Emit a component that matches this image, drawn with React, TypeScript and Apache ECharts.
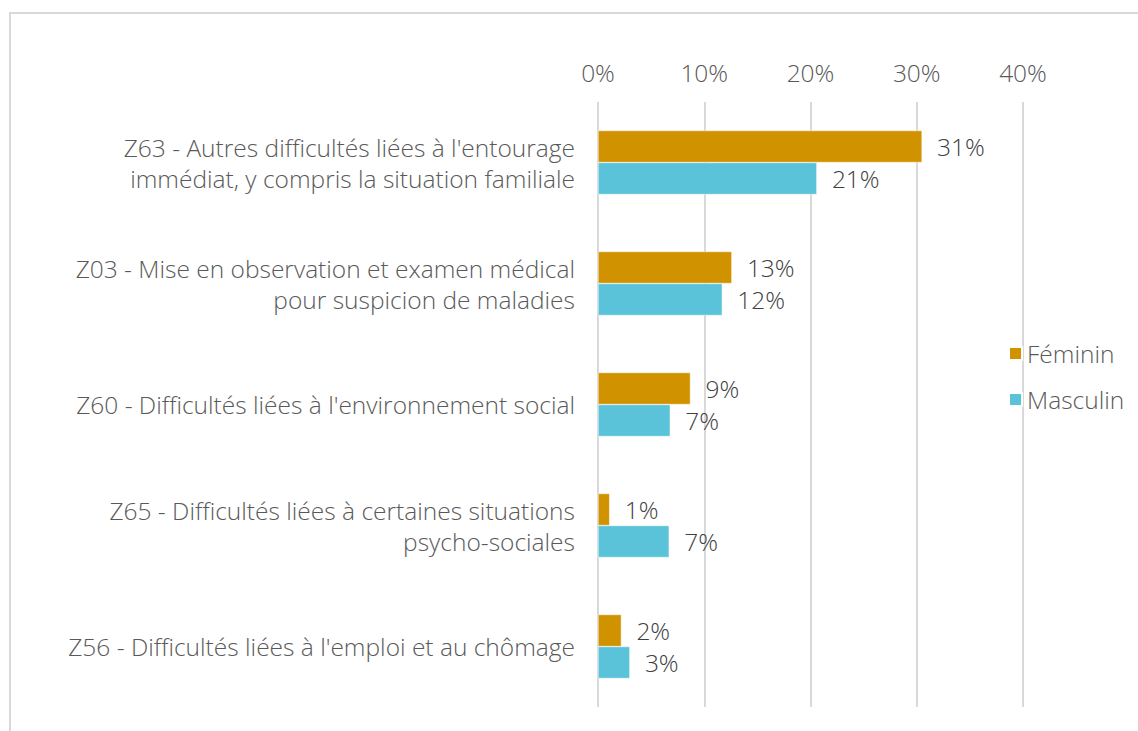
import React, { useEffect, useRef } from "react";
import * as echarts from "echarts";

const categories = [
  "Z63 - Autres difficultés liées à l'entourage\nimmédiat, y compris la situation familiale",
  "Z03 - Mise en observation et examen médical\npour suspicion de maladies",
  "Z60 - Difficultés liées à l'environnement social",
  "Z65 - Difficultés liées à certaines situations\npsycho-sociales",
  "Z56 - Difficultés liées à l'emploi et au chômage",
];
const feminin = [30.5, 12.6, 8.7, 1.1, 2.2];
const masculin = [20.6, 11.7, 6.8, 6.7, 3.0];
const seriesNames = ["Féminin", "Masculin"];
const xTicks = [0, 10, 20, 30, 40];

const FONT = "'Open Sans'";
const TEXT = "#595959";
const FS = 24.5;

export default function App() {
  const ref = useRef<HTMLDivElement>(null);
  useEffect(() => {
    if (!ref.current) return;
    const chart = echarts.init(ref.current, null, { renderer: "svg" });
    const labelOpt = {
      show: true,
      position: "right",
      distance: 15,
      color: "#404040",
      fontSize: FS,
      fontFamily: FONT,
      fontWeight: 300,
      formatter: (p: any) => Math.round(p.value) + "%",
    };
    chart.setOption({
      animation: false,
      backgroundColor: "#ffffff",
      textStyle: { fontFamily: FONT },
      graphic: [
        {
          type: "rect",
          shape: { x: 10, y: 13, width: 1200, height: 800 },
          style: { fill: "none", stroke: "#d9d9d9", lineWidth: 2 },
          silent: true,
        },
      ],
      grid: { left: 598, right: 115, top: 102, bottom: 24, containLabel: false },
      legend: {
        orient: "vertical",
        left: 1008,
        top: 341,
        padding: 0,
        itemWidth: 13,
        itemHeight: 13,
        itemGap: 21,
        icon: "rect",
        textStyle: { color: TEXT, fontSize: FS, fontFamily: FONT, fontWeight: 300, padding: [0, 0, 0, 0] },
        data: seriesNames,
      },
      xAxis: {
        type: "value",
        position: "top",
        min: xTicks[0],
        max: xTicks[xTicks.length - 1],
        interval: 10,
        axisLine: { show: false },
        axisTick: { show: false },
        axisLabel: {
          color: TEXT,
          fontSize: FS,
          fontFamily: FONT,
          fontWeight: 300,
          margin: 17,
          formatter: (v: number) => v + "%",
        },
        splitLine: { show: true, lineStyle: { color: "#d9d9d9", width: 2 } },
      },
      yAxis: {
        type: "category",
        inverse: true,
        data: categories,
        axisLine: { show: false },
        axisTick: { show: false },
        axisLabel: {
          color: TEXT,
          fontSize: FS,
          fontFamily: FONT,
          fontWeight: 300,
          margin: 23,
          lineHeight: 31,
          align: "right",
        },
      },
      series: [
        {
          name: seriesNames[0],
          type: "bar",
          data: feminin,
          barWidth: 32,
          barGap: "0%",
          itemStyle: { color: "#D19200", borderColor: "#ffffff", borderWidth: 0.5 },
          label: labelOpt,
        },
        {
          name: seriesNames[1],
          type: "bar",
          data: masculin,
          barWidth: 32,
          barGap: "0%",
          itemStyle: { color: "#5BC3D9", borderColor: "#ffffff", borderWidth: 0.5 },
          label: labelOpt,
        },
      ],
    });
    return () => chart.dispose();
  }, []);
  return (
    <div
      ref={ref}
      style={{ position: "fixed", left: 0, top: 0, width: 1138, height: 731 }}
    />
  );
}
